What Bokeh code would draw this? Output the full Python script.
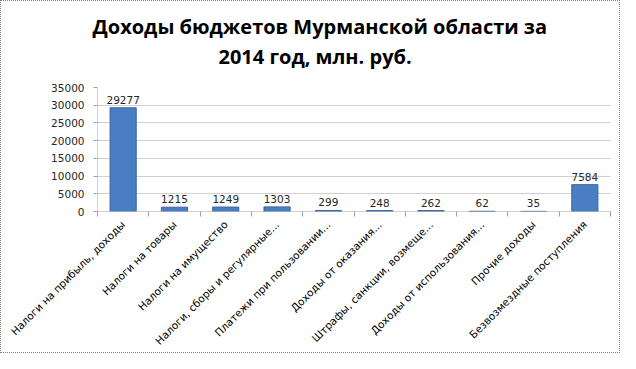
import math
from bokeh.plotting import figure
from bokeh.models import Range1d, FixedTicker, Title, ColumnDataSource
from bokeh.core.properties import value
from bokeh.embed import file_html
from bokeh.resources import INLINE

categories = [
    "Налоги на прибыль, доходы",
    "Налоги на товары",
    "Налоги на имущество",
    "Налоги, сборы и регулярные...",
    "Платежи при пользовании...",
    "Доходы от оказания...",
    "Штрафы, санкции, возмеще...",
    "Доходы от использования...",
    "Прочие доходы",
    "Безвозмездные поступления",
]
values = [29277, 1215, 1249, 1303, 299, 248, 262, 62, 35, 7584]
y_ticks = [0, 5000, 10000, 15000, 20000, 25000, 30000, 35000]
title_lines = ["Доходы бюджетов Мурманской области за", "2014 год, млн. руб."]

n = len(categories)
xs = [i + 0.5 for i in range(n)]
src = ColumnDataSource(dict(x=xs, top=values, label=[str(v) for v in values]))

p = figure(width=620, height=353, output_backend="svg", toolbar_location=None,
           x_range=Range1d(0, n), y_range=Range1d(0, 35000),
           min_border_left=96, min_border_right=11, min_border_bottom=143,
           min_border_top=86)
p.styles = {"border": "1px dotted #808080"}
p.outline_line_color = None
p.background_fill_color = "white"
p.border_fill_color = "white"

# panels stack outward from the frame: spacer, second line, first line
p.add_layout(Title(text=" ", text_font_size="1px", standoff=14), "above")
p.add_layout(Title(text=title_lines[1], align="left", offset=121,
                   text_font="Open Sans", text_font_size="20px",
                   text_font_style="bold", text_color="#000000", standoff=2),
             "above")
p.add_layout(Title(text=title_lines[0], align="left", offset=-5,
                   text_font="Open Sans", text_font_size="20px",
                   text_font_style="bold", text_color="#000000", standoff=0),
             "above")

p.vbar(x="x", top="top", width=0.51, source=src, fill_color="#4a7ec2",
       line_color="#3a66a6", line_width=1)
p.text(x="x", y="top", text="label", source=src, text_align="center",
       text_baseline="bottom", y_offset=-4, text_font=value("DejaVu Sans"),
       text_font_size="10.5px", text_color="#262626")

# x axis: labels at centres, tick marks at category boundaries
p.xaxis.ticker = FixedTicker(ticks=xs, minor_ticks=list(range(n + 1)))
p.xaxis.major_label_overrides = {x: c for x, c in zip(xs, categories)}
p.xaxis.major_label_orientation = math.pi / 4
p.xaxis.major_tick_line_color = None
p.xaxis.minor_tick_out = 5
p.xaxis.minor_tick_in = 0
p.xaxis.minor_tick_line_color = "#a0a0a0"
p.xaxis.axis_line_color = "#a0a0a0"
p.xaxis.axis_line_dash = "1 1"
p.xaxis.major_label_text_font = "DejaVu Sans"
p.xaxis.major_label_text_font_size = "10.5px"
p.xaxis.major_label_text_color = "#000000"
p.xaxis.major_label_standoff = 5

p.yaxis.ticker = FixedTicker(ticks=y_ticks)
p.yaxis.minor_tick_line_color = None
p.yaxis.major_tick_out = 4
p.yaxis.major_tick_in = 0
p.yaxis.major_tick_line_color = "#a0a0a0"
p.yaxis.axis_line_color = "#a0a0a0"
p.yaxis.axis_line_dash = "1 1"
p.yaxis.major_label_text_font = "DejaVu Sans"
p.yaxis.major_label_text_font_size = "10.5px"
p.yaxis.major_label_text_color = "#262626"
p.yaxis.major_label_standoff = 9

p.xgrid.grid_line_color = None
p.ygrid.grid_line_color = "#a0a0a0"
p.ygrid.grid_line_dash = "1 1"

open("out.html", "w").write(file_html(p, INLINE))
